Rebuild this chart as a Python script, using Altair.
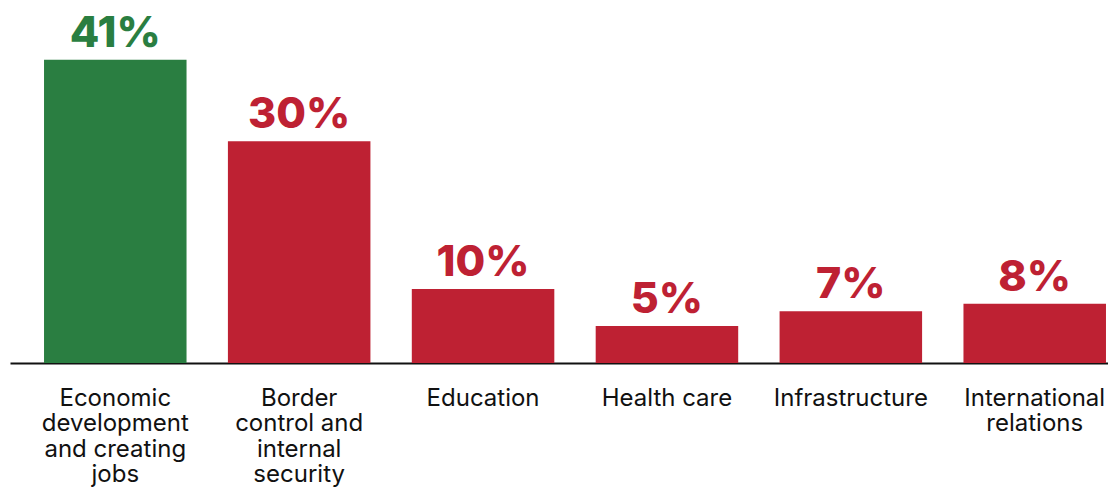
import altair as alt
import pandas as pd

categories = [
    "Economic\ndevelopment\nand creating\njobs",
    "Border\ncontrol and\ninternal\nsecurity",
    "Education",
    "Health care",
    "Infrastructure",
    "International\nrelations",
]
values = [41, 30, 10, 5, 7, 8]
labels = ["41%", "30%", "10%", "5%", "7%", "8%"]
colors = ["#2a7e41", "#be2133", "#be2133", "#be2133", "#be2133", "#be2133"]

df = pd.DataFrame({"cat": categories, "val": values, "lab": labels, "col": colors})

x = alt.X(
    "cat:N",
    sort=categories,
    scale=alt.Scale(paddingInner=0.225, paddingOuter=0.098, align=0.944, round=False),
    axis=alt.Axis(
        title=None,
        labelAngle=0,
        ticks=False,
        domainColor="#111111",
        domainWidth=2,
        labelExpr="split(datum.value, '\\n')",
        labelFont="Inter",
        labelFontSize=24,
        labelColor="#111111",
        labelLineHeight=25.5,
        labelPadding=23,
        labelBaseline="top",
        labelLimit=0,
    ),
)
y = alt.Y("val:Q", scale=alt.Scale(domain=[0, 48]), axis=None)

bars = alt.Chart(df).mark_bar().encode(x=x, y=y, color=alt.Color("col:N", scale=None))
text = alt.Chart(df).mark_text(
    font="Inter", fontSize=43, fontWeight=800, baseline="alphabetic", dy=-13
).encode(x=x, y=y, text="lab:N", color=alt.Color("col:N", scale=None))

chart = (
    alt.layer(bars, text)
    .properties(
        width=1098,
        height=355,
        autosize=alt.AutoSizeParams(type="none"),
        padding={"left": 2, "top": 0, "right": 0, "bottom": 125},
    )
    .configure_view(stroke=None)
)
chart.save("out.html", embed_options={"renderer": "svg", "actions": False})
